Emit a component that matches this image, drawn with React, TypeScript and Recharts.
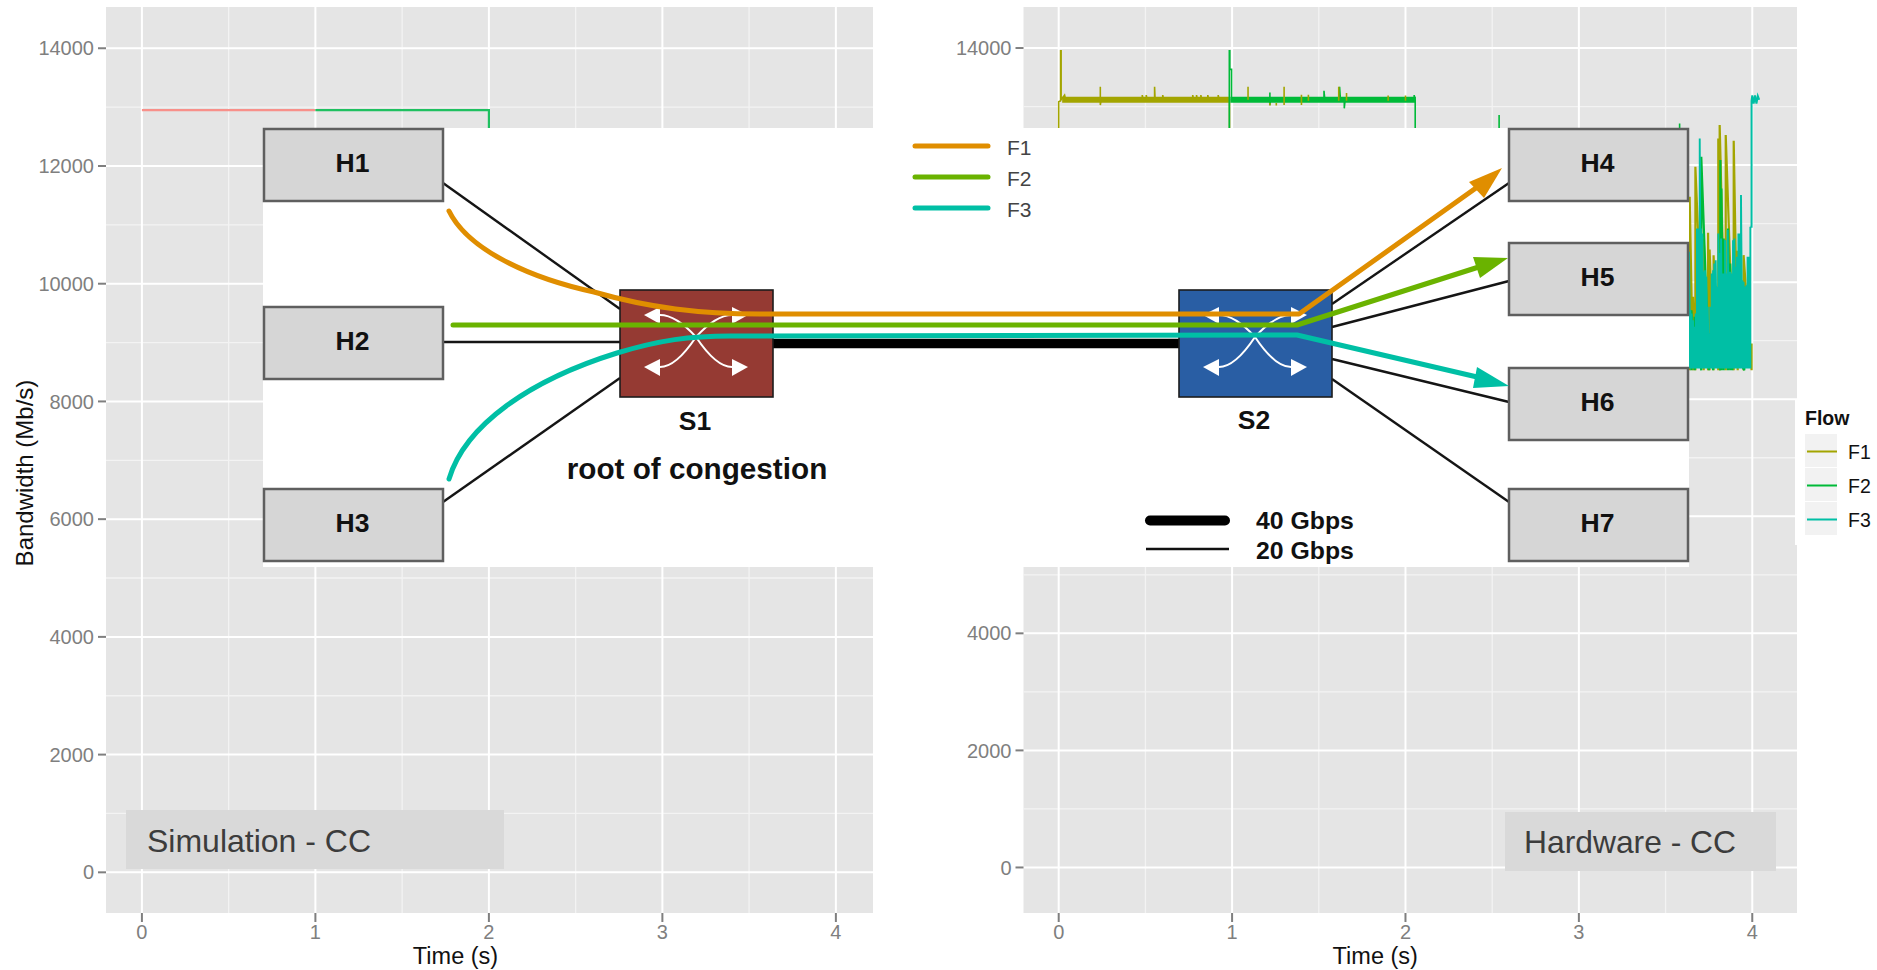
import React from 'react';
import { LineChart, Line, XAxis, YAxis, CartesianGrid } from 'recharts';

type Pair = [number, number];

const flowNames = ['F1', 'F2', 'F3'];
const xTicks = [0, 1, 2, 3, 4];
const xMinor = [0.5, 1.5, 2.5, 3.5];
const yTicks = [0, 2000, 4000, 6000, 8000, 10000, 12000, 14000];
const yMinor = [1000, 3000, 5000, 7000, 9000, 11000, 13000];

const simF1: Pair[] = [[0, 12950], [1, 12950]];
const simF2: Pair[] = [[1, 12950], [2, 12950], [2, 9000]];

const hwF1Band: Pair[] = [[0.02, 13116], [0.985, 13116]];
const hwF2Band: Pair[] = [[0.99, 13116], [2.06, 13116]];

const hwF1Start: Pair[] = [
  [0, 12000], [0, 13082], [0.011, 13100], [0.011, 13954], [0.014, 13954], [0.014, 13116], [0.034, 13196], [0.04, 13116],
  [0.24, 13116], [0.24, 13339], [0.24, 13025], [0.245, 13116], [0.482, 13116], [0.482, 13196], [0.487, 13116],
  [0.505, 13116], [0.505, 13196], [0.51, 13116], [0.553, 13116], [0.553, 13339], [0.556, 13116],
  [0.6, 13116], [0.6, 13196], [0.605, 13116], [0.773, 13116], [0.773, 13196], [0.778, 13116],
  [0.795, 13116], [0.795, 13196], [0.8, 13116], [0.82, 13116], [0.82, 13196], [0.825, 13116],
  [0.86, 13116], [0.86, 13196], [0.865, 13116], [0.92, 13116], [0.92, 13196], [0.925, 13116],
  [0.985, 13116], [0.985, 11000],
];
const hwF1Ticks: [number, number, number][] = [
  [1.092, 13116, 13339], [1.218, 13020, 13060], [1.255, 13020, 13060], [1.3, 13025, 13339],
  [1.4, 13025, 13200], [1.44, 13100, 13200], [1.615, 13100, 13339], [1.66, 13100, 13230],
  [1.9, 13100, 13190], [2.0, 13100, 13190],
];
const hwF1Burst: Pair[] = [
  [3.639, 11459], [3.658, 9749], [3.672, 11971], [3.72, 10746], [3.745, 10843], [3.754, 10558], [3.777, 10461],
  [3.804, 12456], [3.812, 12684], [3.847, 12513], [3.893, 12416], [3.916, 10535], [3.95, 10461], [3.996, 8951],
];

const hwF2Main: Pair[] = [
  [0.984, 12000], [0.984, 13954], [0.987, 13954], [0.987, 13635], [0.997, 13635], [0.997, 13116],
  [1.218, 13116], [1.218, 13240], [1.218, 13025], [1.222, 13116], [1.53, 13116], [1.53, 13270], [1.535, 13116],
  [1.62, 13116], [1.62, 13339], [1.625, 13116], [1.647, 13116], [1.647, 12970], [1.652, 13116],
  [2.05, 13116], [2.05, 13196], [2.056, 13116], [2.056, 12000],
];
const hwF2Spikes: [number, number, number][] = [[2.54, 12000, 12854], [3.581, 12000, 12712]];
const hwF2Burst: Pair[] = [
  [3.649, 9521], [3.668, 9407], [3.706, 12142], [3.75, 9122], [3.774, 9464], [3.816, 12085], [3.822, 11601],
  [3.835, 10746], [3.86, 10917], [3.873, 10319], [3.885, 8894], [3.954, 9920],
];

const hwBaseline = 8524;
const hwF3Burst: Pair[] = [
  [3.635, 10518], [3.643, 9521], [3.65, 9464], [3.658, 9350], [3.666, 9236], [3.674, 9464], [3.681, 10917], [3.689, 10917],
  [3.697, 12456], [3.704, 10917], [3.712, 10832], [3.72, 10177], [3.727, 10205], [3.735, 10091], [3.743, 9578], [3.75, 9122],
  [3.758, 9578], [3.766, 10148], [3.774, 10205], [3.781, 10319], [3.789, 10376], [3.797, 9920], [3.804, 10832], [3.812, 10500],
  [3.82, 10746], [3.827, 10148], [3.835, 10148], [3.843, 10718], [3.85, 10148], [3.858, 10889], [3.866, 10177], [3.873, 10177],
  [3.881, 10148], [3.889, 10718], [3.897, 10746], [3.904, 10262], [3.912, 10433], [3.92, 10832], [3.927, 10832], [3.935, 11487],
  [3.943, 10034], [3.95, 10006], [3.958, 9920], [3.966, 9949], [3.973, 10433], [3.981, 10433], [3.989, 10946],
];
const hwF3End: Pair[] = [
  [3.989, 10946], [3.996, 10946], [3.996, 13100], [4.0, 13190], [4.008, 13050], [4.016, 13190], [4.024, 13050], [4.032, 13180], [4.04, 13116],
];

const FONT = '"Liberation Sans", Arial, sans-serif';
const OLIVE = '#A3A500';
const GREEN = '#00BA38';
const TEAL = '#00BFA5';
const rows = (p: Pair[]) => p.map(([t, v]) => ({ t, v }));
const ticksRows = (p: [number, number, number][]) =>
  p.flatMap(([t, lo, hi]) => [{ t, v: lo }, { t, v: hi }, { t, v: null as number | null }]);
const burstRows = (p: Pair[], base: number) =>
  p.flatMap(([t, v]) => [{ t, v: base }, { t, v }]);

const tickStyle = { fill: '#7f7f7f', fontSize: 20, fontFamily: FONT };

function thin(data: any[], color: string, width: number, key: string) {
  return (
    <Line key={key} data={data} dataKey="v" stroke={color} strokeWidth={width} dot={false} activeDot={false}
      isAnimationActive={false} type="linear" connectNulls={false} legendType="none" />
  );
}

function panelParts(xDomain: [number, number], yDomain: [number, number], yWidth: number, titleDx: number) {
  return [
    <CartesianGrid key="minor" fill="#E5E5E5" stroke="#F3F3F3" strokeWidth={1.3} horizontalValues={yMinor} verticalValues={xMinor} />,
    <CartesianGrid key="major" stroke="#FFFFFF" strokeWidth={2} horizontalValues={yTicks} verticalValues={xTicks} />,
    <XAxis key="x" type="number" dataKey="t" domain={xDomain} ticks={xTicks} allowDataOverflow interval={0} height={57}
      axisLine={false} tickSize={9} tickMargin={3} tick={tickStyle} tickLine={{ stroke: '#7f7f7f', strokeWidth: 2 }}
      label={{ value: 'Time (s)', position: 'insideBottom', offset: 6, dx: titleDx, fill: '#111', fontSize: 23.5, fontFamily: FONT }} />,
    <YAxis key="y" type="number" domain={yDomain} ticks={yTicks} allowDataOverflow interval={0} width={yWidth}
      axisLine={false} tickSize={8} tickMargin={4} tick={tickStyle} tickLine={{ stroke: '#7f7f7f', strokeWidth: 2 }} />,
  ];
}

function Box({ x, y, label, w = 179, h = 72 }: { x: number; y: number; label: string; w?: number; h?: number }) {
  return (
    <g>
      <rect x={x} y={y} width={w} height={h} fill="#D6D6D6" stroke="#5F5F5F" strokeWidth={2.5} />
      <text x={x + w / 2 - 1} y={y + h / 2 - 2} textAnchor="middle" dominantBaseline="central" fontFamily={FONT} fontWeight="bold" fontSize={26.5} fill="#111">{label}</text>
    </g>
  );
}

function SwitchArrows({ cx, cy }: { cx: number; cy: number }) {
  const arms: [number, number][] = [[-1, -22], [1, -22], [-1, 30], [1, 30]];
  return (
    <g transform={`translate(${cx} ${cy})`}>
      {arms.map(([s, d], i) => (
        <g key={i}>
          <path d={`M0 0 Q${s * 20} ${d} ${s * 36} ${d}`} fill="none" stroke="#fff" strokeWidth={2} />
          <polygon points={`${s * 52},${d} ${s * 36},${d - 8} ${s * 36},${d + 9}`} fill="#fff" />
        </g>
      ))}
    </g>
  );
}

const STROKE_BLACK = '#151515';

function Overlay() {
  return (
    <svg width={1877} height={970} style={{ position: 'absolute', left: 0, top: 0 }}>
      {/* annotation tags */}
      <rect x={126} y={810} width={378} height={59} fill="#D9D9D9" />
      <text x={147} y={841} dominantBaseline="central" fontFamily={FONT} fontSize={32} fill="#3c3c3c">Simulation - CC</text>
      <rect x={1505} y={812} width={271} height={59} fill="#D9D9D9" />
      <text x={1524} y={842} dominantBaseline="central" fontFamily={FONT} fontSize={31.8} fill="#3c3c3c">Hardware - CC</text>

      {/* axis title */}
      <text transform="translate(24 473) rotate(-90)" textAnchor="middle" dominantBaseline="central" fontFamily={FONT} fontSize={24} fill="#111">Bandwidth (Mb/s)</text>

      {/* flow legend */}
      <rect x={1795} y={399} width={82} height={146} fill="#fff" />
      <text x={1805} y={418} dominantBaseline="central" fontFamily={FONT} fontWeight="bold" fontSize={19.5} fill="#111">Flow</text>
      {flowNames.map((name, i) => {
        const ky = [434, 468, 502][i];
        const color = [OLIVE, GREEN, TEAL][i];
        return (
          <g key={name}>
            <rect x={1805} y={ky} width={32} height={33} fill="#F2F2F2" />
            <line x1={1807} x2={1837} y1={ky + 17.5} y2={ky + 17.5} stroke={color} strokeWidth={2} />
            <text x={1848} y={ky + 18} dominantBaseline="central" fontFamily={FONT} fontSize={19.5} fill="#111">{name}</text>
          </g>
        );
      })}

      {/* topology diagram */}
      <rect x={263} y={128} width={1426} height={439} fill="#fff" />
      <g stroke={STROKE_BLACK} strokeWidth={2.4}>
        <line x1={443} y1={183} x2={620} y2={309} />
        <line x1={443} y1={342} x2={620} y2={342} />
        <line x1={443} y1={502} x2={620} y2={378} />
        <line x1={1332} y1={304} x2={1509} y2={183} />
        <line x1={1332} y1={327} x2={1509} y2={281} />
        <line x1={1332} y1={359} x2={1509} y2={402} />
        <line x1={1332} y1={379} x2={1509} y2={502} />
      </g>
      <line x1={773} y1={343.5} x2={1179} y2={343.5} stroke="#000" strokeWidth={9.5} />
      <Box x={264} y={129} label="H1" />
      <Box x={264} y={307} label="H2" />
      <Box x={264} y={489} label="H3" />
      <Box x={1509} y={129} label="H4" />
      <Box x={1509} y={243} label="H5" />
      <Box x={1509} y={368} label="H6" />
      <Box x={1509} y={489} label="H7" />
      <rect x={620} y={290} width={153} height={107} fill="#953A33" stroke="#1c1c1c" strokeWidth={1.6} />
      <rect x={1179} y={290} width={153} height={107} fill="#295EA4" stroke="#1c1c1c" strokeWidth={1.6} />
      <SwitchArrows cx={696} cy={337} />
      <SwitchArrows cx={1255} cy={337} />

      {/* flows */}
      <g fill="none" strokeWidth={5}>
        <path d="M449 211 C468 250 530 278 594 292 C650 308 700 314 760 314 L1299 314 L1490 178" stroke="#E08E00" strokeLinecap="round" strokeLinejoin="round" />
        <path d="M453 325 L1297 325 L1485 265" stroke="#6AB300" strokeLinecap="round" strokeLinejoin="round" />
        <path d="M449 479 C465 425 530 380 617 353 C660 340 690 336 730 336 L1297 335 L1490 380" stroke="#00BFA5" strokeLinecap="round" strokeLinejoin="round" />
      </g>
      <polygon points="1502,168 1469,182 1484,198" fill="#E08E00" />
      <polygon points="1508,258 1473,257 1480,278" fill="#6AB300" />
      <polygon points="1509,386 1477,367 1473,388" fill="#00BFA5" />

      {/* flow key */}
      {flowNames.map((name, i) => (
        <g key={name}>
          <line x1={915} x2={988} y1={146 + i * 31} y2={146 + i * 31} strokeWidth={5} strokeLinecap="round" stroke={['#E08E00', '#6AB300', '#00BFA5'][i]} />
          <text x={1007} y={147 + i * 31} dominantBaseline="central" fontFamily={FONT} fontSize={21} fill="#444">{name}</text>
        </g>
      ))}

      {/* labels */}
      <text x={695} y={421} textAnchor="middle" dominantBaseline="central" fontFamily={FONT} fontWeight="bold" fontSize={26.5} fill="#111">S1</text>
      <text x={697} y={468} textAnchor="middle" dominantBaseline="central" fontFamily={FONT} fontWeight="bold" fontSize={29.7} fill="#111">root of congestion</text>
      <text x={1254} y={420} textAnchor="middle" dominantBaseline="central" fontFamily={FONT} fontWeight="bold" fontSize={26.5} fill="#111">S2</text>
      <line x1={1150} x2={1225} y1={520.5} y2={520.5} stroke="#000" strokeWidth={10} strokeLinecap="round" />
      <line x1={1146} x2={1229} y1={549} y2={549} stroke="#111" strokeWidth={2.5} />
      <text x={1256} y={520} dominantBaseline="central" fontFamily={FONT} fontWeight="bold" fontSize={24.8} fill="#111">40 Gbps</text>
      <text x={1256} y={550} dominantBaseline="central" fontFamily={FONT} fontWeight="bold" fontSize={24.8} fill="#111">20 Gbps</text>
    </svg>
  );
}

export default function App() {
  return (
    <div style={{ position: 'absolute', left: 0, top: 0, width: 1877, height: 970, background: '#fff', overflow: 'hidden' }}>
      <div style={{ position: 'absolute', left: 0, top: 0 }}>
        <LineChart width={880} height={970} margin={{ top: 7, right: 7, bottom: 0, left: 0 }}>
          {panelParts([-0.207, 4.214], [-691, 14701], 106, -34)}
          {thin(rows(simF1), '#F8908A', 2.2, 'simF1')}
          {thin(rows(simF2), '#1FC060', 2.2, 'simF2')}
        </LineChart>
      </div>
      <div style={{ position: 'absolute', left: 900, top: 0 }}>
        <LineChart width={900} height={970} margin={{ top: 7, right: 3, bottom: 0, left: 0 }}>
          {panelParts([-0.203, 4.258], [-778, 14701], 123.5, -35)}
          {thin(rows(hwF1Band), OLIVE, 6, 'f1band')}
          {thin(rows(hwF1Start), OLIVE, 1.6, 'f1start')}
          {thin(burstRows(hwF1Burst, 8495), OLIVE, 2.2, 'f1burst')}
          {thin(rows(hwF2Band), GREEN, 6, 'f2band')}
          {thin(rows(hwF2Main), GREEN, 1.6, 'f2main')}
          {thin(ticksRows(hwF2Spikes), GREEN, 1.6, 'f2spikes')}
          {thin(burstRows(hwF2Burst, 8495), GREEN, 2.2, 'f2burst')}
          {thin(burstRows(hwF3Burst, hwBaseline), TEAL, 1.9, 'f3burst')}
          {thin(rows(hwF3End), TEAL, 2, 'f3end')}
          {thin(ticksRows(hwF1Ticks), OLIVE, 1.6, 'f1ticks')}
        </LineChart>
      </div>
      <Overlay />
    </div>
  );
}
